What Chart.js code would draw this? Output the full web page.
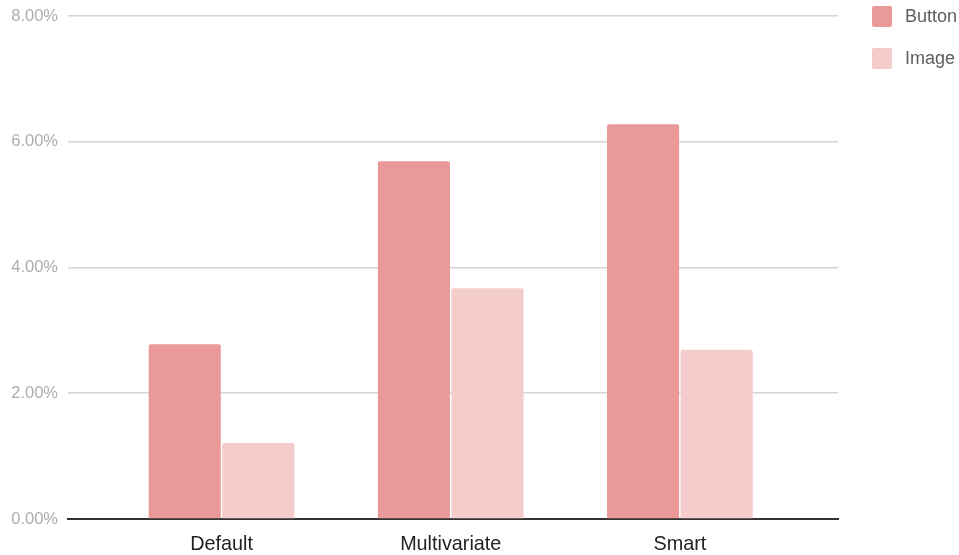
<!DOCTYPE html>
<html>
<head>
<meta charset="utf-8">
<script src="https://cdn.jsdelivr.net/npm/chart.js@4.4.0/dist/chart.umd.min.js"></script>
<style>
  body { margin: 0; background: #fff; }
  #wrap { position: relative; width: 959px; height: 555px; }
  .legend-item { position: absolute; left: 872px; height: 22px; font: 18px "Liberation Sans", Arial, sans-serif; color: #5f5f5f; }
  .legend-item span.box { position: absolute; left: 0; top: 0; width: 20px; height: 21px; border-radius: 2px; }
  .legend-item span.txt { position: absolute; left: 33px; top: 0; line-height: 21px; white-space: nowrap; }
</style>
</head>
<body>
<div id="wrap">
  <canvas id="barChart" width="959" height="555"></canvas>
  <div id="legend"></div>
</div>
<script>
const categories = ['Default', 'Multivariate', 'Smart']
const seriesNames = ['Button', 'Image']
const buttonValues = [2.78, 5.69, 6.28]
const imageValues = [1.21, 3.67, 2.69]
const seriesColors = ['#ea9999', '#f4cccc']
const yTicks = [0, 2, 4, 6, 8]

const toPoints = vals => vals.map((v, i) => { return { x: i, y: v } })

// html legend, top right
const legend = document.getElementById('legend')
seriesNames.forEach((name, i) => {
    const item = document.createElement('div')
    item.className = 'legend-item'
    item.style.top = (6 + i * 42) + 'px'
    item.innerHTML = '<span class="box" style="background:' + seriesColors[i] + '"></span><span class="txt">' + name + '</span>'
    legend.appendChild(item)
})

const ctx = document.getElementById('barChart').getContext('2d')
new Chart(ctx, {
    type: 'bar',
    data: {
        datasets: [
            { label: seriesNames[0], data: toPoints(buttonValues), backgroundColor: seriesColors[0] },
            { label: seriesNames[1], data: toPoints(imageValues), backgroundColor: seriesColors[1] }
        ]
    },
    options: {
        responsive: false,
        animation: false,
        layout: { padding: { top: 16, right: 121, left: 0, bottom: 0 } },
        datasets: {
            bar: { categoryPercentage: 0.642, barPercentage: 0.98, borderRadius: 2, borderSkipped: 'start' }
        },
        scales: {
            x: {
                type: 'linear',
                offset: false,
                min: -0.67,
                max: 2.69,
                afterBuildTicks: s => { s.ticks = categories.map((c, i) => ({ value: i })) },
                afterFit: s => { s.height = 36 },
                grid: { display: false, drawTicks: false },
                border: { display: true, color: '#333333', width: 2 },
                ticks: {
                    padding: 14,
                    color: '#222222',
                    font: { family: '"Liberation Sans", Arial, sans-serif', size: 19.8 },
                    callback: v => categories[v] || ''
                }
            },
            y: {
                min: 0,
                max: 8,
                afterBuildTicks: s => { s.ticks = yTicks.map(v => ({ value: v })) },
                afterFit: s => { s.width = 68; s.paddingTop = 0; s.paddingBottom = 0 },
                grid: { color: '#d4d4d4', lineWidth: 1.6, drawTicks: false },
                border: { display: false },
                ticks: {
                    padding: 10,
                    color: '#adadad',
                    font: { family: '"Liberation Sans", Arial, sans-serif', size: 16.5 },
                    callback: v => v.toFixed(2) + '%'
                }
            }
        },
        plugins: {
            legend: { display: false },
            tooltip: { enabled: false }
        }
    }
})
</script>
</body>
</html>
